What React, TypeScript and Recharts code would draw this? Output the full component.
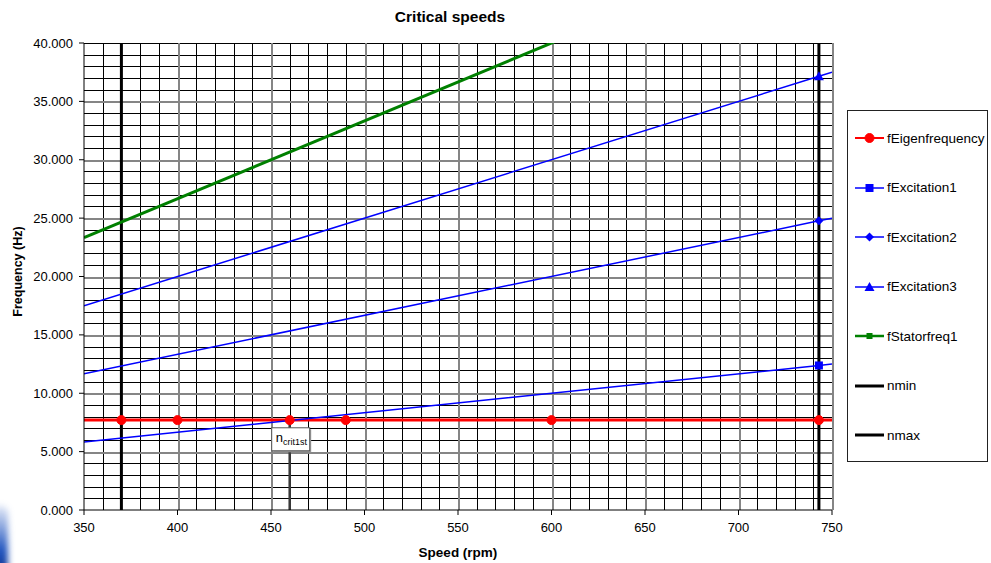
import React from 'react';
import {
  ComposedChart,
  Line,
  XAxis,
  YAxis,
  CartesianGrid,
  ReferenceLine,
  ReferenceDot,
  Legend,
  Label,
} from 'recharts';

// ---- data -------------------------------------------------------------
const speedTicks = [350, 400, 450, 500, 550, 600, 650, 700, 750];
const freqTicks = [0, 5, 10, 15, 20, 25, 30, 35, 40];

const eigenSpeeds = [350, 370, 400, 460, 490, 600, 743, 750];
const eigenFreq = [7.7, 7.7, 7.7, 7.7, 7.7, 7.7, 7.7, 7.7];
const eigenMarkers = [0, 1, 1, 1, 1, 1, 1, 0];

const excitationSpeeds = [350, 743, 750];
const excitation1 = [5.83, 12.38, 12.5];
const excitation2 = [11.67, 24.77, 25.0];
const excitation3 = [17.5, 37.15, 37.5];
const excitationMarkers = [0, 1, 0];

const statorSpeeds = [350, 743];
const stator1 = [23.33, 49.53];
const statorMarkers = [0, 1];

const nMin = 370;
const nMax = 743;
const freqRange = [0, 40];

const critSpeed = 460;
const critFreq = 7.7;
const critLabelFreq = 6.1;

// ---- helpers ----------------------------------------------------------
type Row = { s: number; f: number; m: boolean };
const toRows = (xs: number[], ys: number[], ms: number[]): Row[] =>
  xs.map((s, i) => ({ s, f: ys[i], m: !!ms[i] }));

const eigenRows = toRows(eigenSpeeds, eigenFreq, eigenMarkers);
const exc1Rows = toRows(excitationSpeeds, excitation1, excitationMarkers);
const exc2Rows = toRows(excitationSpeeds, excitation2, excitationMarkers);
const exc3Rows = toRows(excitationSpeeds, excitation3, excitationMarkers);
const statorRows = toRows(statorSpeeds, stator1, statorMarkers);
const nMinRows = toRows([nMin, nMin], freqRange, [0, 0]);
const nMaxRows = toRows([nMax, nMax], freqRange, [0, 0]);

type Shape = 'circle' | 'square' | 'diamond' | 'triangle' | 'smallSquare' | 'none';

const marker = (shape: Shape, color: string, cx: number, cy: number, key?: string) => {
  switch (shape) {
    case 'circle':
      return <circle key={key} cx={cx} cy={cy} r={4.5} fill={color} stroke={color} />;
    case 'square':
      return <rect key={key} x={cx - 4} y={cy - 4} width={8} height={8} fill={color} />;
    case 'smallSquare':
      return <rect key={key} x={cx - 3} y={cy - 3} width={6} height={6} fill={color} />;
    case 'diamond':
      return (
        <polygon
          key={key}
          points={`${cx},${cy - 4.5} ${cx + 4.5},${cy} ${cx},${cy + 4.5} ${cx - 4.5},${cy}`}
          fill={color}
        />
      );
    case 'triangle':
      return (
        <polygon
          key={key}
          points={`${cx},${cy - 5} ${cx + 5},${cy + 4} ${cx - 5},${cy + 4}`}
          fill={color}
        />
      );
    default:
      return <g key={key} />;
  }
};

const makeDot = (shape: Shape, color: string) => (p: any) => {
  const { cx, cy, payload, index } = p;
  const key = `d-${shape}-${index}`;
  if (cx == null || cy == null || !payload || !payload.m) return <g key={key} />;
  return marker(shape, color, cx, cy, key);
};

// grid values: black minor lines, grey major lines
const minorHz: number[] = [];
const majorHz: number[] = [];
for (let v = 1; v <= 40; v++) (v % 5 === 0 && v !== 40 ? majorHz : minorHz).push(v);
const minorRpm: number[] = [];
const majorRpm: number[] = [];
for (let v = 360; v <= 750; v += 10) (v % 50 === 0 ? majorRpm : minorRpm).push(v);

const mapY = (args: any, vals: number[]) => {
  const { yAxis, offset } = args;
  const sc = yAxis && yAxis.scale;
  return vals.map((v) =>
    Math.round(typeof sc === 'function' ? sc(v) : offset.top + offset.height * (1 - v / 40)) + 0.5
  );
};
const mapX = (args: any, vals: number[]) => {
  const { xAxis, offset } = args;
  const sc = xAxis && xAxis.scale;
  return vals.map((v) =>
    Math.round(typeof sc === 'function' ? sc(v) : offset.left + (offset.width * (v - 350)) / 400) + 0.5
  );
};

const legendItems: { name: string; color: string; shape: Shape; width: number }[] = [
  { name: 'fEigenfrequency', color: '#ff0000', shape: 'circle', width: 2 },
  { name: 'fExcitation1', color: '#0000ff', shape: 'square', width: 1.5 },
  { name: 'fExcitation2', color: '#0000ff', shape: 'diamond', width: 1.5 },
  { name: 'fExcitation3', color: '#0000ff', shape: 'triangle', width: 1.5 },
  { name: 'fStatorfreq1', color: '#008000', shape: 'smallSquare', width: 2.5 },
  { name: 'nmin', color: '#000000', shape: 'none', width: 3 },
  { name: 'nmax', color: '#000000', shape: 'none', width: 3 },
];

const FONT = 'Arial, "Liberation Sans", Helvetica, sans-serif';

const LegendBox = () => (
  <div
    style={{
      width: 141,
      height: 352,
      boxSizing: 'border-box',
      border: '1px solid #222',
      background: '#fff',
      position: 'relative',
      fontFamily: FONT,
    }}
  >
    {legendItems.map((it, i) => (
      <div
        key={it.name}
        style={{
          position: 'absolute',
          left: 6,
          top: 18 + i * 49.5,
          height: 18,
          display: 'flex',
          alignItems: 'center',
          fontSize: 13.5,
          color: '#000',
          whiteSpace: 'nowrap',
        }}
      >
        <svg width={32} height={18} style={{ display: 'block' }}>
          <line x1={1} y1={9} x2={30} y2={9} stroke={it.color} strokeWidth={it.width} />
          {marker(it.shape, it.color, 15.5, 9)}
        </svg>
        <span style={{ marginLeft: 1 }}>{it.name}</span>
      </div>
    ))}
  </div>
);

const CritLabel = (p: any) => {
  const { cx, cy } = p;
  if (cx == null || cy == null) return <g />;
  const x = cx - 18;
  const y = cy - 11;
  return (
    <g>
      <rect x={x + 1.5} y={y + 1.5} width={38} height={23} fill="#9a9a9a" />
      <rect x={x} y={y} width={38} height={23} fill="#ffffff" stroke="#555" strokeWidth={1} />
      <text x={x + 4} y={y + 14} fontFamily={FONT} fill="#000">
        <tspan fontSize={13}>n</tspan>
        <tspan fontSize={9} dy={3}>crit1st</tspan>
      </text>
    </g>
  );
};

export default function App() {
  return (
    <div
      style={{
        position: 'absolute',
        left: 0,
        top: 0,
        width: 991,
        height: 563,
        background: '#ffffff',
        overflow: 'hidden',
        fontFamily: FONT,
      }}
    >
      <div
        style={{
          position: 'absolute',
          left: 0,
          top: 9,
          width: 900,
          textAlign: 'center',
          fontSize: 15.5,
          fontWeight: 'bold',
          lineHeight: '16px',
          color: '#000',
        }}
      >
        Critical speeds
      </div>

      <div
        style={{
          position: 'absolute',
          left: -8,
          top: 505,
          width: 16,
          height: 70,
          borderRadius: 9,
          background: 'linear-gradient(to bottom, rgba(40,90,200,0.1), #2457c0 65%, #0b2f8a)',
          filter: 'blur(3px)',
        }}
      />

      <ComposedChart
        width={991}
        height={563}
        margin={{ top: 43, right: 159, bottom: 23, left: 0 }}
        style={{ position: 'absolute', left: 0, top: 0 }}
      >
        <CartesianGrid
          stroke="#000000"
          strokeWidth={1}
          shapeRendering="crispEdges"
          horizontalCoordinatesGenerator={(a: any) => mapY(a, minorHz)}
          verticalCoordinatesGenerator={(a: any) => mapX(a, minorRpm)}
        />
        <CartesianGrid
          stroke="#858585"
          strokeWidth={2}
          shapeRendering="crispEdges"
          horizontalCoordinatesGenerator={(a: any) => mapY(a, majorHz)}
          verticalCoordinatesGenerator={(a: any) => mapX(a, majorRpm)}
        />
        <XAxis
          dataKey="s"
          type="number"
          domain={[350, 750]}
          ticks={speedTicks}
          allowDataOverflow
          height={30}
          stroke="#000"
          tickSize={5}
          tickMargin={8}
          tick={{ fill: '#000', fontSize: 13, fontFamily: FONT }}
        >
          <Label
            content={(p: any) => {
              const vb = p.viewBox || { x: 84, y: 510, width: 748, height: 30 };
              return (
                <text
                  x={vb.x + vb.width / 2}
                  y={vb.y + vb.height + 17}
                  textAnchor="middle"
                  fontFamily={FONT}
                  fontWeight="bold"
                  fontSize={13.5}
                  fill="#000"
                >
                  Speed (rpm)
                </text>
              );
            }}
          />
        </XAxis>
        <YAxis
          type="number"
          domain={[0, 40]}
          ticks={freqTicks}
          allowDataOverflow
          width={84}
          stroke="#000"
          tickSize={5}
          tickMargin={6}
          tickFormatter={(v: number) => v.toFixed(3)}
          tick={{ fill: '#000', fontSize: 13, fontFamily: FONT }}
        >
          <Label
            content={(p: any) => {
              const vb = p.viewBox || { x: 0, y: 43, width: 84, height: 467 };
              const cx = 22;
              const cy = vb.y + vb.height / 2 - 5;
              return (
                <text
                  x={cx}
                  y={cy}
                  transform={`rotate(-90 ${cx} ${cy})`}
                  textAnchor="middle"
                  fontFamily={FONT}
                  fontWeight="bold"
                  fontSize={12.5}
                  fill="#000"
                >
                  Frequency (Hz)
                </text>
              );
            }}
          />
        </YAxis>

        <Legend
          layout="vertical"
          align="center"
          verticalAlign="middle"
          content={() => <LegendBox />}
          wrapperStyle={{ left: 847, top: 110, width: 141, height: 352, margin: 0 }}
        />

        <Line
          data={nMinRows}
          dataKey="f"
          name="nmin"
          stroke="#000"
          strokeWidth={3}
          dot={false}
          activeDot={false}
          isAnimationActive={false}
        />
        <Line
          data={nMaxRows}
          dataKey="f"
          name="nmax"
          stroke="#000"
          strokeWidth={3}
          dot={false}
          activeDot={false}
          isAnimationActive={false}
        />

        <ReferenceLine
          segment={[
            { x: critSpeed, y: critFreq },
            { x: critSpeed, y: 0 },
          ]}
          stroke="#3a3a3a"
          strokeWidth={2.5}
        />

        <Line
          data={eigenRows}
          dataKey="f"
          name="fEigenfrequency"
          stroke="#ff0000"
          strokeWidth={3}
          dot={makeDot('circle', '#ff0000')}
          activeDot={false}
          isAnimationActive={false}
        />
        <Line
          data={exc1Rows}
          dataKey="f"
          name="fExcitation1"
          stroke="#0000ff"
          strokeWidth={1.5}
          dot={makeDot('square', '#0000ff')}
          activeDot={false}
          isAnimationActive={false}
        />
        <Line
          data={exc2Rows}
          dataKey="f"
          name="fExcitation2"
          stroke="#0000ff"
          strokeWidth={1.5}
          dot={makeDot('diamond', '#0000ff')}
          activeDot={false}
          isAnimationActive={false}
        />
        <Line
          data={exc3Rows}
          dataKey="f"
          name="fExcitation3"
          stroke="#0000ff"
          strokeWidth={1.5}
          dot={makeDot('triangle', '#0000ff')}
          activeDot={false}
          isAnimationActive={false}
        />
        <Line
          data={statorRows}
          dataKey="f"
          name="fStatorfreq1"
          stroke="#008000"
          strokeWidth={3}
          dot={makeDot('smallSquare', '#008000')}
          activeDot={false}
          isAnimationActive={false}
        />

        <ReferenceDot x={critSpeed} y={critLabelFreq} shape={CritLabel} />
      </ComposedChart>
    </div>
  );
}
